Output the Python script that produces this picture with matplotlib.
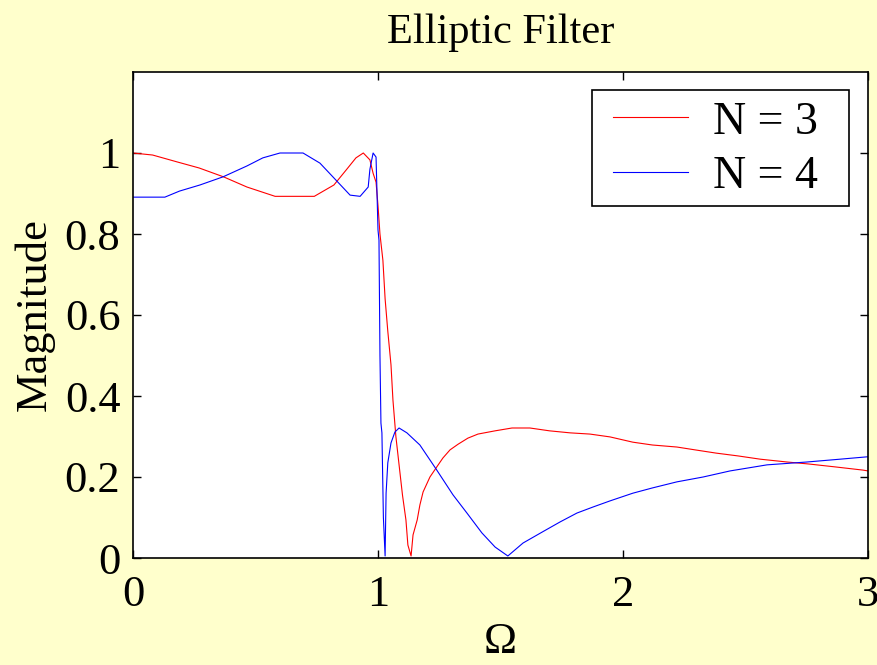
import matplotlib
matplotlib.use("Agg")
import matplotlib.pyplot as plt
from matplotlib.patches import Rectangle

# N = 3 response
omega_n3 = [0.0, 0.08, 0.18, 0.27, 0.37, 0.465, 0.58, 0.74, 0.82, 0.87, 0.91, 0.94,
            0.967, 0.98, 0.992, 1.0, 1.008, 1.02, 1.029, 1.04, 1.053, 1.061, 1.073,
            1.086, 1.10, 1.114, 1.122, 1.135, 1.143, 1.16, 1.171, 1.184, 1.212, 1.24,
            1.265, 1.294, 1.327, 1.367, 1.408, 1.478, 1.547, 1.62, 1.70, 1.784, 1.865,
            1.947, 2.04, 2.12, 2.22, 2.294, 2.38, 2.47, 2.56, 2.67, 2.76, 2.865, 2.98, 3.0]
mag_n3 = [1.0, 0.995, 0.978, 0.963, 0.941, 0.916, 0.893, 0.893, 0.921, 0.958, 0.988, 1.0,
          0.983, 0.95, 0.928, 0.87, 0.80, 0.735, 0.64, 0.56, 0.477, 0.39, 0.30,
          0.23, 0.155, 0.094, 0.032, 0.005, 0.057, 0.094, 0.131, 0.163, 0.20, 0.225,
          0.247, 0.267, 0.281, 0.296, 0.306, 0.314, 0.321, 0.321, 0.314, 0.309, 0.306,
          0.299, 0.286, 0.279, 0.274, 0.267, 0.259, 0.252, 0.244, 0.237, 0.232, 0.225, 0.217, 0.215]

# N = 4 response
omega_n4 = [0.0, 0.13, 0.19, 0.273, 0.367, 0.465, 0.53, 0.6, 0.694, 0.763, 0.816, 0.886,
            0.927, 0.96, 0.967, 0.98, 0.992, 0.996, 1.0, 1.004, 1.008, 1.012, 1.016,
            1.022, 1.029, 1.033, 1.04, 1.053, 1.069, 1.086, 1.118, 1.171, 1.24, 1.306,
            1.363, 1.424, 1.478, 1.53, 1.592, 1.67, 1.743, 1.812, 1.878, 1.947, 2.04,
            2.12, 2.22, 2.327, 2.437, 2.588, 2.75, 2.886, 3.0]
mag_n4 = [0.891, 0.891, 0.906, 0.921, 0.941, 0.968, 0.988, 1.0, 1.0, 0.975, 0.941, 0.896,
          0.893, 0.916, 0.96, 1.0, 0.99, 0.90, 0.81, 0.785, 0.50, 0.333, 0.309,
          0.10, 0.005, 0.16, 0.235, 0.284, 0.311, 0.321, 0.309, 0.279, 0.217, 0.156,
          0.111, 0.062, 0.027, 0.005, 0.037, 0.064, 0.089, 0.111, 0.126, 0.141, 0.16,
          0.173, 0.188, 0.20, 0.215, 0.23, 0.237, 0.244, 0.25]

labels = ["N = 3", "N = 4"]
xticks = [0, 1, 2, 3]
yticks = [0, 0.2, 0.4, 0.6, 0.8, 1]
yticklabels = ["0", "0.2", "0.4", "0.6", "0.8", "1"]

plt.rcParams['font.family'] = ['Liberation Serif', 'DejaVu Serif']
plt.rcParams['mathtext.fontset'] = 'stix'

W, H = 878, 665
fig = plt.figure(figsize=(W / 100, H / 100), dpi=100, facecolor='#FFFFCC')
ax = fig.add_axes([133 / W, 1 - 558 / H, (868 - 133) / W, (558 - 72) / H])
ax.set_facecolor('white')

ax.plot(omega_n3, mag_n3, color='#FF0000', lw=0.8, label=labels[0])
ax.plot(omega_n4, mag_n4, color='#0000FF', lw=0.8, label=labels[1])

ax.set_xlim(0, 3)
ax.set_ylim(0, 1.2)
ax.set_xticks(xticks)
ax.set_xticklabels([str(t) for t in xticks])
ax.set_yticks(yticks)
ax.set_yticklabels(yticklabels)
ax.tick_params(direction='in', length=6, width=1, top=True, right=True,
               labelsize=32)
ax.tick_params(axis='x', pad=12)
ax.tick_params(axis='y', pad=9)
for s in ax.spines.values():
    s.set_linewidth(1.2)

ax.set_title("Elliptic Filter", fontsize=30.5, pad=21)
ax.set_xlabel("Ω", fontsize=32, labelpad=5)
ax.set_ylabel("Magnitude", fontsize=32, labelpad=7.5)

# legend frame (pixel box from the reference, expressed in axes fractions)
ax_w, ax_h = 868 - 133, 558 - 72
frame = Rectangle(((592 - 133) / ax_w, (558 - 206) / ax_h), 257 / ax_w, 116 / ax_h,
                  transform=ax.transAxes, facecolor='white', edgecolor='black',
                  lw=1.2, zorder=4.9, clip_on=False)
ax.add_patch(frame)

fs_leg = 33
em = fs_leg * 100 / 72
leg = ax.legend(loc='upper left', bbox_to_anchor=((613 - 133) / ax_w, (558 - 101) / ax_h),
                fontsize=fs_leg, frameon=False, borderpad=0, borderaxespad=0,
                handlelength=75 / em, handletextpad=25 / em, labelspacing=0.26)
leg.set_zorder(5)

fig.savefig("out.png", dpi=100, facecolor=fig.get_facecolor())
